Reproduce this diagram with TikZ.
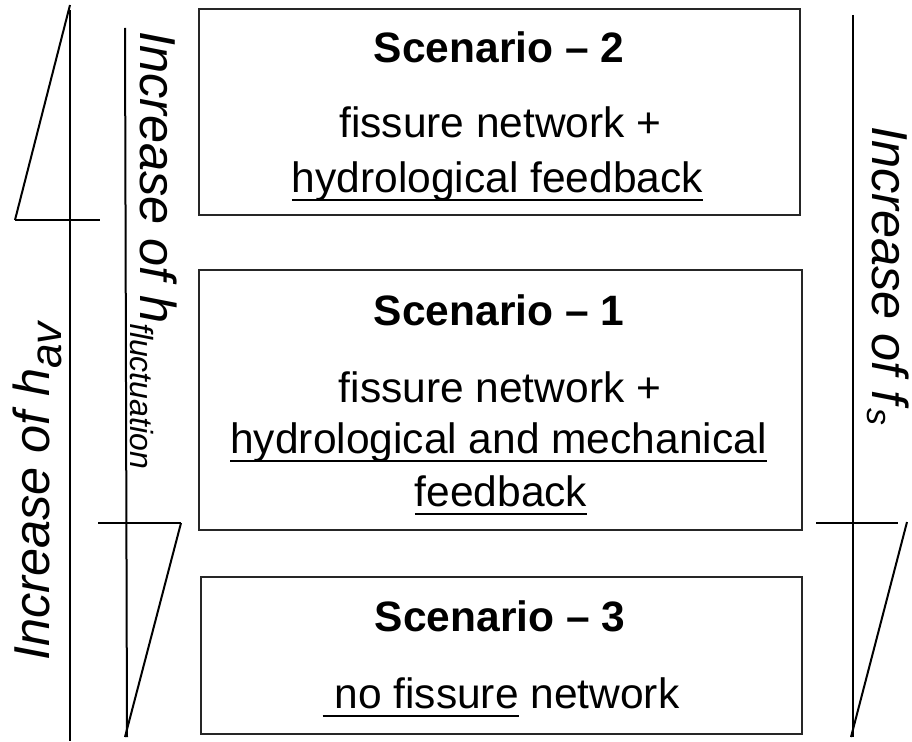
\documentclass[tikz,border=0pt]{standalone}
\usepackage{fontspec}
\setmainfont{Liberation Sans}

\newcommand*{\boxFont}{\fontsize{42.5}{53}\selectfont}
\newcommand*{\axisFont}{\fontsize{50.5}{52}\selectfont\itshape}
\newcommand*{\subFont}[1]{\fontsize{#1}{#1}\selectfont}
\newsavebox{\ulBox}
\newcommand*{\ulText}[1]{\sbox{\ulBox}{#1}\rlap{\rule[-9pt]{\wd\ulBox}{2.5pt}}\usebox{\ulBox}}

\begin{document}
\begin{tikzpicture}[x=1pt,y=-1pt,
	scenario/.style={draw=black!85,line width=2.6pt},
	axis/.style={line width=2pt},
	label/.style={anchor=base,inner sep=0pt,font=\boxFont},
	title/.style={label,font=\boxFont\bfseries},
	axislabel/.style={anchor=base west,inner sep=0pt,font=\axisFont}]

	\useasboundingbox (0,0) rectangle (912,741);

	% scenario boxes
	\foreach \boxName/\cx/\cy/\w/\h in {box2/499.5/112/601/206, box1/500.5/400/603/260, box3/501.5/655.5/601/157} {
		\node [scenario,minimum width=\w pt,minimum height=\h pt] (\boxName) at (\cx,\cy) {};
	}

	\node [title] (title2) at (499,63) {Scenario – 2};
	\node [label] (net2) at (500.5,138) {fissure network +};
	\node [label] (feed2) at (497.5,192) {\ulText{hydrological feedback}};

	\node [title] (title1) at (499,325) {Scenario – 1};
	\node [label] (net1) at (500,402) {fissure network +};
	\node [label] (feed1a) at (498.5,453) {\ulText{hydrological and mechanical}};
	\node [label] (feed1b) at (501,506) {\ulText{feedback}};

	\node [title] (title3) at (500,631) {Scenario – 3};
	\node [label] (net3) at (501,708) {\ulText{\ no fissure} network};

	% h_av axis
	\draw [axis] (70,10) -- (70,741);
	\draw [axis] (70,5) -- (15,220);
	\draw [axis] (15,220) -- (100,220);
	\node [axislabel,rotate=90] (hav) at (49,661) {Increase of h\raisebox{-12pt}{\subFont{44}av}};

	% h_fluctuation axis
	\draw [axis] (125,28) -- (127,737);
	\draw [axis] (98,523) -- (181,523);
	\draw [axis] (181,523) -- (125,737);
	\node [axislabel,rotate=-90] (hfluc) at (140,31) {Increase of h\raisebox{-10pt}{\subFont{32}fluctuation}};

	% f_s axis
	\draw [axis] (853,15) -- (853,737);
	\draw [axis] (816,523) -- (898,523);
	\draw [axis] (907,522) -- (851,737);
	\node [axislabel,rotate=-90] (fs) at (872,126) {Increase of f\kern4pt\raisebox{-5pt}{\subFont{34}s}};

\end{tikzpicture}
\end{document}
